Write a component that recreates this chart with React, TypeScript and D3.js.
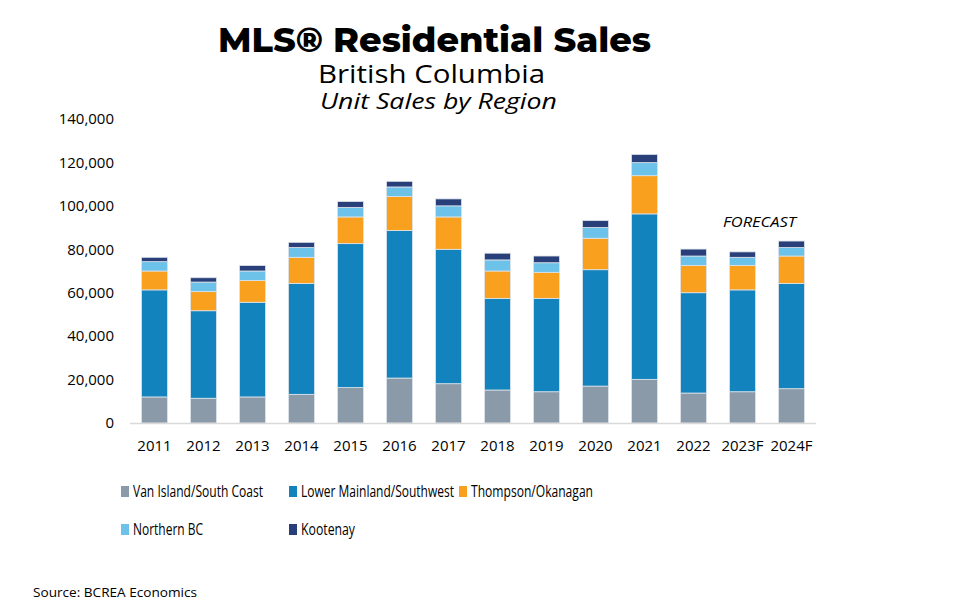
import React from "react";
import * as d3 from "d3";

const years = ["2011","2012","2013","2014","2015","2016","2017","2018","2019","2020","2021","2022","2023F","2024F"];
const vanIsland = [12.0,11.4,12.0,13.2,16.3,20.7,18.1,15.2,14.4,17.0,20.1,13.8,14.4,15.8];
const lowerMainland = [49.3,40.3,43.6,51.1,66.3,68.0,61.9,42.2,43.0,53.6,76.2,46.2,46.9,48.5];
const thompson = [8.7,8.8,10.0,12.0,12.3,15.6,14.9,12.6,12.0,14.5,17.6,12.6,11.3,12.6];
const northern = [4.3,4.4,4.4,4.5,4.4,4.4,5.1,5.1,4.4,4.9,6.0,4.3,3.7,3.9];
const kootenay = [2.0,2.0,2.5,2.4,2.7,2.6,3.2,3.1,3.1,3.2,3.8,3.2,2.5,3.0];
const seriesNames = ["Van Island/South Coast","Lower Mainland/Southwest","Thompson/Okanagan","Northern BC","Kootenay"];
const colors = ["#8a9aa8","#1283bd","#f9a11f","#6dc2ea","#293f7a"];
const yTicks = [0,20000,40000,60000,80000,100000,120000,140000];

export default function App() {
  const W = 960, H = 606;
  const all = [vanIsland, lowerMainland, thompson, northern, kootenay];
  const rows = years.map((y, i) => {
    const r: any = { year: y };
    seriesNames.forEach((s, k) => { r[s] = all[k][i] * 1000; });
    return r;
  });
  const stacked = d3.stack().keys(seriesNames)(rows);
  const x = d3.scaleBand().domain(years).range([130, 816]).paddingInner(0.47).paddingOuter(0.235);
  const y = d3.scaleLinear().domain([0, 140000]).range([423, 119]);
  const fmt = d3.format(",");
  const font = "'Open Sans', sans-serif";
  const legendPos = [[121, 491],[289, 491],[459, 491],[121, 529],[289, 529]];
  const legendW = [130, 153, 122, 70, 54];
  return (
    <svg width={W} height={H} style={{ position: "absolute", left: 0, top: 0, background: "#fff" }}>
      <text x={218} y={52} fontFamily="Montserrat, 'Open Sans', sans-serif" fontWeight={800} fontSize={34} textLength={433} lengthAdjust="spacingAndGlyphs" fill="#000">MLS® Residential Sales</text>
      <text x={318} y={83} fontFamily={font} fontSize={25} textLength={227} lengthAdjust="spacingAndGlyphs" fill="#000">British Columbia</text>
      <text x={320} y={109} fontFamily={font} fontStyle="italic" fontSize={22} textLength={237} lengthAdjust="spacingAndGlyphs" fill="#000">Unit Sales by Region</text>
      {yTicks.map(t => (
        <text key={t} x={114} y={y(t)} dy="0.35em" textAnchor="end" fontFamily={font} fontSize={15} fill="#000">{fmt(t)}</text>
      ))}
      {stacked.map((s, k) => (
        <g key={k}>
          {s.map((d, i) => (
            <rect key={i} x={x(years[i])} y={y(d[1])} width={x.bandwidth()} height={y(d[0]) - y(d[1])}
              fill={colors[k]} stroke="#dde3ea" strokeWidth={0.8} />
          ))}
        </g>
      ))}
      <line x1={130} x2={816} y1={423.5} y2={423.5} stroke="#d9d9d9" strokeWidth={1.5} />
      {years.map(yr => (
        <text key={yr} x={(x(yr) as number) + x.bandwidth() / 2} y={451} textAnchor="middle" fontFamily={font} fontSize={15} fill="#000">{yr}</text>
      ))}
      <text x={723} y={227} fontFamily={font} fontStyle="italic" fontSize={15} textLength={73} lengthAdjust="spacingAndGlyphs" fill="#000">FORECAST</text>
      {seriesNames.map((s, k) => (
        <g key={s}>
          <rect x={legendPos[k][0]} y={legendPos[k][1] - 5} width={8} height={11} fill={colors[k]} />
          <text x={legendPos[k][0] + 12} y={legendPos[k][1]} dy="0.35em" fontFamily={font} fontSize={16} textLength={legendW[k]} lengthAdjust="spacingAndGlyphs" fill="#000">{s}</text>
        </g>
      ))}
      <text x={33} y={597} fontFamily={font} fontSize={13} textLength={164} lengthAdjust="spacingAndGlyphs" fill="#000">Source: BCREA Economics</text>
    </svg>
  );
}
